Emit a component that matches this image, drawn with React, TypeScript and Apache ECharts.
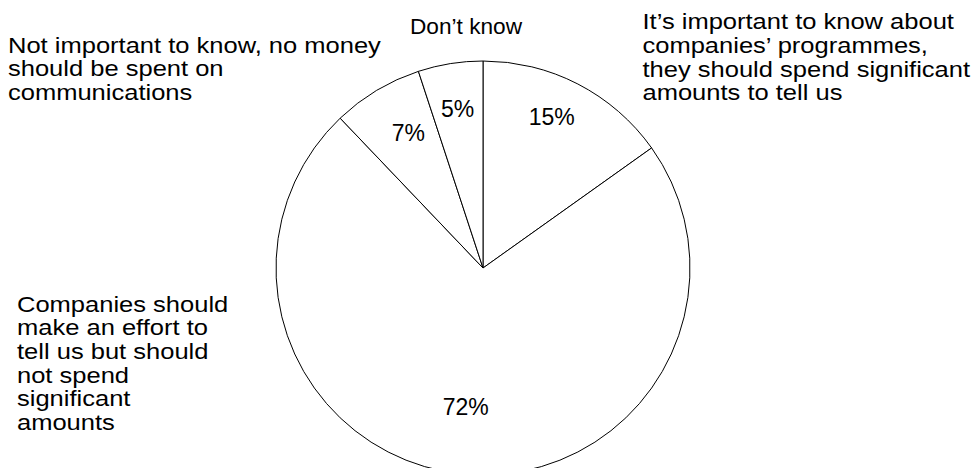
import React, { useEffect, useRef } from "react";
import * as echarts from "echarts";

const categories = [
  "It’s important to know about\ncompanies’ programmes,\nthey should spend significant\namounts to tell us",
  "Companies should\nmake an effort to\ntell us but should\nnot spend\nsignificant\namounts",
  "Not important to know, no money\nshould be spent on\ncommunications",
  "Don’t know",
];
const values = [15, 72, 7, 5];
const percentLabels = ["15%", "72%", "7%", "5%"];

const FONT = "'Liberation Sans', Arial, Helvetica, sans-serif";

export default function App() {
  const ref = useRef<HTMLDivElement>(null);
  useEffect(() => {
    if (!ref.current) return;
    const chart = echarts.init(ref.current, undefined, { renderer: "svg" });
    const center = [483, 268];
    const labelPos: Array<[number, number, string, number]> = [
      [642.5, 9.5, "left", 1.16],
      [17, 292, "left", 1.16],
      [8, 33, "left", 1.16],
      [466, 15, "center", 1.03],
    ];
    const pctOffsets: Array<[number, number]> = [
      [-5, -8],
      [-2, -21],
      [8, 3],
      [0, 0],
    ];
    chart.setOption({
      animation: false,
      backgroundColor: "#ffffff",
      series: [
        {
          type: "pie",
          center,
          radius: [0, 207],
          startAngle: 90,
          clockwise: true,
          silent: true,
          label: { show: false },
          labelLine: { show: false },
          itemStyle: { color: "#ffffff", borderColor: "#000000", borderWidth: 1 },
          data: values.map((v, i) => ({ name: categories[i], value: v })),
        },
        {
          type: "pie",
          center,
          radius: [0, 316],
          startAngle: 90,
          clockwise: true,
          silent: true,
          itemStyle: { color: "rgba(0,0,0,0)", borderWidth: 0 },
          label: {
            show: true,
            position: "inside",
            color: "#000000",
            fontFamily: FONT,
            fontSize: 23,
            formatter: (p: any) => percentLabels[p.dataIndex],
          },
          labelLine: { show: false },
          data: values.map((v, i) => ({
            name: categories[i],
            value: v,
            label: { offset: pctOffsets[i] },
          })),
        },
      ],
      graphic: categories.map((c, i) => ({
        type: "text",
        x: labelPos[i][0],
        y: labelPos[i][1],
        scaleX: labelPos[i][3],
        silent: true,
        style: {
          text: c,
          fill: "#000000",
          fontSize: 22,
          fontFamily: FONT,
          lineHeight: 23.7,
          align: labelPos[i][2],
          verticalAlign: "top",
        },
      })),
    });
    return () => chart.dispose();
  }, []);
  return (
    <div
      ref={ref}
      style={{ position: "fixed", left: 0, top: 0, width: 976, height: 468 }}
    />
  );
}
